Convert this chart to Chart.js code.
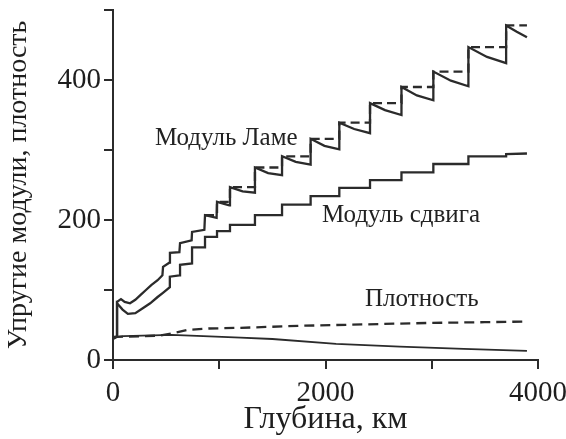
<!DOCTYPE html>
<html lang="ru">
<head>
<meta charset="UTF-8">
<title>Упругие модули, плотность</title>
<script src="https://cdn.jsdelivr.net/npm/chart.js"></script>
<style>
  html, body { margin: 0; padding: 0; background: #fff; }
  #wrap { width: 566px; height: 439px; }
</style>
</head>
<body>
<div id="wrap"><canvas id="chart"></canvas></div>
<script>
// depth in km
const lameDepth = [0, 38, 38, 75, 110, 160, 210, 260, 310, 360, 420, 465, 471, 530, 536, 625, 631, 740, 744, 860, 866, 975, 979, 1095, 1101, 1220, 1336, 1336, 1460, 1591, 1591, 1720, 1860, 1860, 1990, 2130, 2130, 2270, 2419, 2419, 2560, 2715, 2715, 2860, 3015, 3015, 3180, 3345, 3345, 3520, 3700, 3700, 3800, 3896];
const lameValue = [30, 33, 83, 87, 83, 81, 86, 93, 100, 107, 114, 121, 133, 139, 153, 154, 167, 171, 183, 186, 207, 203, 226, 221, 247, 241, 239, 275, 267, 264, 291, 283, 279, 316, 306, 301, 339, 330, 324, 367, 357, 350, 390, 378, 371, 412, 399, 391, 447, 433, 424, 478, 469, 461];

// dashed steps of the Lamé modulus (value holds from this depth to the next)
const lameStepDepth = [866, 979, 1101, 1336, 1591, 1860, 2130, 2419, 2715, 3015, 3345, 3700, 3896];
const lameStepValue = [207, 226, 247, 275, 291, 316, 339, 367, 390, 412, 447, 478, 478];

const shearDepth = [0, 38, 38, 90, 140, 210, 280, 350, 420, 470, 535, 535, 625, 631, 631, 744, 744, 866, 866, 979, 979, 1101, 1101, 1336, 1336, 1591, 1591, 1860, 1860, 2130, 2130, 2419, 2419, 2715, 2715, 3015, 3015, 3345, 3345, 3700, 3700, 3896];
const shearValue = [31, 34, 81, 72, 66, 67, 74, 81, 90, 96, 104, 119, 121, 121, 136, 138, 161, 161, 176, 176, 184, 184, 193, 193, 207, 207, 222, 222, 234, 234, 246, 246, 257, 257, 268, 268, 280, 280, 291, 291, 294, 295];

const densityDepth = [0, 300, 450, 550, 700, 900, 1200, 1800, 2400, 3000, 3500, 3896];
const densityValue = [33, 34, 35, 38, 43, 45, 46, 49, 51, 53, 54, 55];

const lowerDepth = [0, 100, 550, 850, 1200, 1500, 2100, 2700, 3300, 3896];
const lowerValue = [32, 34, 36, 34, 32, 30, 23, 19, 16, 13];

const curveLabels = ["Модуль Ламе", "Модуль сдвига", "Плотность"];
const labelDepth = [395, 1967, 2372];
const labelValue = [317, 206, 86];

const xTicksShown = [0, 2000, 4000];
const yTicksShown = [0, 200, 400];

const ink = "#2b2b2b";
const serif = "'Liberation Serif', 'DejaVu Serif', serif";

function pts(xs, ys) {
  return xs.map((x, i) => ({ x: x, y: ys[i] }));
}

const curveText = {
  id: "curveText",
  afterDatasetsDraw(chart) {
    const { ctx, scales } = chart;
    ctx.save();
    ctx.fillStyle = "#222";
    ctx.font = "25px " + serif;
    ctx.textAlign = "left";
    ctx.textBaseline = "middle";
    curveLabels.forEach((t, i) => {
      ctx.fillText(t, scales.x.getPixelForValue(labelDepth[i]), scales.y.getPixelForValue(labelValue[i]));
    });
    ctx.restore();
  },
};

new Chart(document.getElementById("chart"), {
  type: "line",
  data: {
    datasets: [
      { data: pts(lameDepth, lameValue) },
      { data: pts(lameStepDepth, lameStepValue), stepped: true, borderDash: [9, 5] },
      { data: pts(shearDepth, shearValue) },
      { data: pts(densityDepth, densityValue), borderDash: [10, 6] },
      { data: pts(lowerDepth, lowerValue), borderWidth: 1.8 },
    ],
  },
  options: {
    responsive: true,
    maintainAspectRatio: false,
    animation: false,
    layout: { padding: { top: 10, right: 28, left: 0, bottom: 0 } },
    elements: {
      point: { radius: 0 },
      line: { borderColor: ink, borderWidth: 2.3, tension: 0, fill: false },
    },
    plugins: { legend: { display: false }, tooltip: { enabled: false } },
    scales: {
      x: {
        type: "linear",
        min: 0,
        max: 4000,
        afterFit(s) {
          s.height = 79;
          s.paddingLeft = 0;
          s.paddingRight = 0;
        },
        border: { color: ink, width: 2 },
        grid: { drawOnChartArea: false, tickLength: 9, color: ink, lineWidth: 2 },
        ticks: {
          stepSize: 1000,
          autoSkip: false,
          maxRotation: 0,
          padding: 7,
          color: "#1e1e1e",
          font: { family: serif, size: 29 },
          callback: (v) => (xTicksShown.includes(v) ? String(v) : ""),
        },
        title: {
          display: true,
          text: "Глубина, км",
          color: "#1e1e1e",
          font: { family: serif, size: 32 },
          padding: { top: 0, bottom: 0 },
        },
      },
      y: {
        min: 0,
        max: 500,
        afterFit(s) {
          s.width = 113;
          s.paddingTop = 0;
          s.paddingBottom = 0;
        },
        border: { color: ink, width: 2 },
        grid: { drawOnChartArea: false, tickLength: 9, color: ink, lineWidth: 2 },
        ticks: {
          stepSize: 100,
          padding: 3,
          color: "#1e1e1e",
          font: { family: serif, size: 29 },
          callback: (v) => (yTicksShown.includes(v) ? String(v) : ""),
        },
        title: {
          display: true,
          text: "Упругие модули, плотность",
          color: "#1e1e1e",
          font: { family: serif, size: 28 },
          padding: { top: 2, bottom: 0 },
        },
      },
    },
  },
  plugins: [curveText],
});
</script>
</body>
</html>
